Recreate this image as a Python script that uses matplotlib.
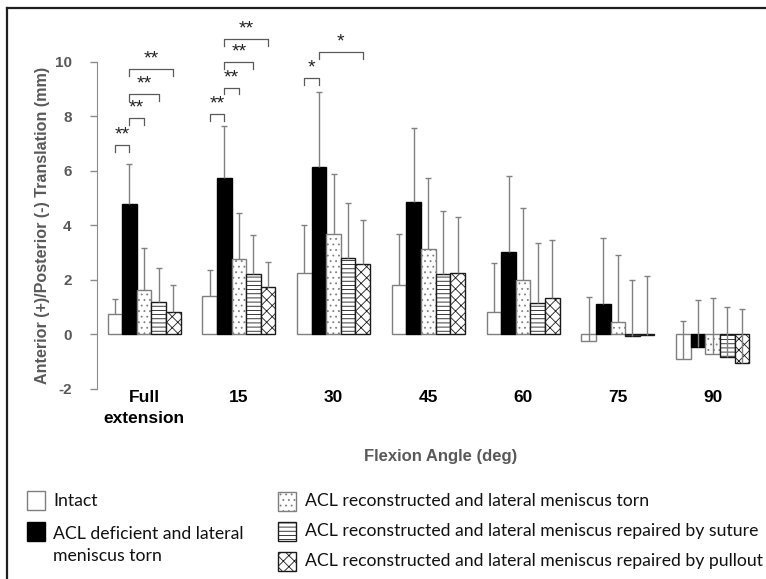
import numpy as np
import matplotlib
matplotlib.use('Agg')
import matplotlib.pyplot as plt
from matplotlib.patches import Rectangle
from matplotlib.lines import Line2D

# flexion angles (categories)
ANGLES = ['Full\nextension', '15', '30', '45', '60', '75', '90']

# mean anterior(+)/posterior(-) translation, mm
intact = [0.75, 1.42, 2.27, 1.83, 0.83, -0.25, -0.89]
acl_def = [4.78, 5.72, 6.15, 4.84, 3.03, 1.10, -0.47]
recon_torn = [1.62, 2.77, 3.67, 3.13, 1.98, 0.44, -0.70]
recon_suture = [1.18, 2.20, 2.81, 2.20, 1.16, -0.07, -0.81]
recon_pullout = [0.81, 1.75, 2.60, 2.27, 1.32, -0.03, -1.05]

# standard deviations (drawn upward only)
intact_sd = [0.55, 0.96, 1.73, 1.85, 1.80, 1.63, 1.37]
acl_def_sd = [1.46, 1.92, 2.74, 2.72, 2.77, 2.42, 1.75]
recon_torn_sd = [1.56, 1.67, 2.20, 2.62, 2.64, 2.46, 2.03]
recon_suture_sd = [1.27, 1.43, 2.02, 2.31, 2.18, 2.05, 1.80]
recon_pullout_sd = [1.02, 0.90, 1.58, 2.02, 2.14, 2.16, 2.00]

LABELS = ['Intact',
          'ACL deficient and lateral\nmeniscus torn',
          'ACL reconstructed and lateral meniscus torn',
          'ACL reconstructed and lateral meniscus repaired by suture',
          'ACL reconstructed and lateral meniscus repaired by pullout']

# significance: (angle index, bar a, bar b, bracket height, mark)
SIG = [(0, 0, 1, 6.94, '**'), (0, 1, 2, 7.92, '**'), (0, 1, 3, 8.82, '**'),
       (0, 1, 4, 9.72, '**'),
       (1, 0, 1, 8.07, '**'), (1, 1, 2, 9.05, '**'), (1, 1, 3, 9.98, '**'),
       (1, 1, 4, 10.82, '**'),
       (2, 0, 1, 9.41, '*'), (2, 1, 4, 10.36, '*')]

means = [intact, acl_def, recon_torn, recon_suture, recon_pullout]
sds = [intact_sd, acl_def_sd, recon_torn_sd, recon_suture_sd, recon_pullout_sd]

GREY = '#595959'
styles = [dict(facecolor='white', edgecolor='#7f7f7f'),
          dict(facecolor='black', edgecolor='black'),
          dict(facecolor='white', edgecolor='#7f7f7f', hatch='...'),
          dict(facecolor='white', edgecolor='#1a1a1a', hatch='----'),
          dict(facecolor='white', edgecolor='#1a1a1a', hatch='xxx')]

plt.rcParams['hatch.linewidth'] = 0.6
plt.rcParams['font.family'] = 'Liberation Sans'

fig = plt.figure(figsize=(7.66, 5.79), dpi=100)
ax = fig.add_axes([0.1262, 0.3282, 0.866, 0.5652])

x = np.arange(len(ANGLES))
w = 0.154
for i in range(5):
    xp = x + (i - 2) * w
    ax.bar(xp, means[i], width=w, linewidth=1.0, **styles[i])
for i in range(5):
    xp = x + (i - 2) * w
    tops = np.array(means[i]) + np.array(sds[i])
    ax.vlines(xp, means[i], tops, color='#808080', lw=1.0)
    ax.plot(xp, tops, ls='none', marker='_', ms=5, mew=1.0, color='#808080')

# significance brackets
for g, a, b, yb, mark in SIG:
    xa = g + (a - 2) * w
    xb = g + (b - 2) * w
    ax.plot([xa, xa, xb, xb], [yb - 0.25, yb, yb, yb - 0.25],
            color='#595959', lw=0.9, clip_on=False)
    ax.text((xa + xb) / 2, yb + 0.06, mark, ha='center', va='bottom',
            fontsize=14, color='#222222', clip_on=False)

ax.set_xlim(-0.5, 6.5)
ax.set_ylim(-2, 10)
ax.set_yticks(range(-2, 11, 2))
ax.set_yticklabels([str(v) for v in range(-2, 11, 2)])
ax.set_xticks(x)
ax.set_xticklabels(ANGLES, fontsize=12.5, fontweight='bold')
ax.get_xticklabels()[0].set_linespacing(1.5)
ax.tick_params(axis='x', length=0, pad=1)
ax.tick_params(axis='y', length=5, width=1, color='#8c8c8c', pad=13,
               labelsize=11, labelcolor=GREY)
for t in ax.get_yticklabels():
    t.set_fontweight('bold')
for s in ['top', 'right', 'bottom']:
    ax.spines[s].set_visible(False)
ax.spines['left'].set_color('#8c8c8c')

ax.set_ylabel('Anterior (+)/Posterior (-) Translation (mm)', fontsize=11.6,
              fontweight='bold', color=GREY)
ax.yaxis.set_label_coords(-0.070, 0.5)
fig.text(441 / 766, 1 - 457 / 579, 'Flexion Angle (deg)', ha='center',
         va='center', fontsize=12, fontweight='bold', color=GREY)

# legend (two columns below the chart)
leg_font = dict(family='Lato', fontsize=12.7, color='#111111', va='center')
boxes = [(26.7, 500), (26.7, 531), (278, 501), (278, 531), (278, 561)]
texts = [(53, 501), (53, 545), (305, 501), (305, 531), (305, 561)]
for i in range(5):
    bx, by = boxes[i]
    fig.add_artist(Rectangle((bx / 766, 1 - (by + 9.5) / 579), 18 / 766, 19 / 579,
                             transform=fig.transFigure, lw=1.0, **styles[i]))
    tx, ty = texts[i]
    fig.text(tx / 766, 1 - ty / 579, LABELS[i], ha='left', linespacing=1.4,
             **leg_font)

# outer frame (only top and left edges fall inside the picture)
fig.add_artist(Line2D([7 / 766, 7 / 766], [0, 1 - 8 / 579], color='#202020',
                      lw=1.6, transform=fig.transFigure))
fig.add_artist(Line2D([7 / 766, 1], [1 - 8 / 579, 1 - 8 / 579], color='#202020',
                      lw=1.6, transform=fig.transFigure))

fig.savefig('out.png', dpi=100)
